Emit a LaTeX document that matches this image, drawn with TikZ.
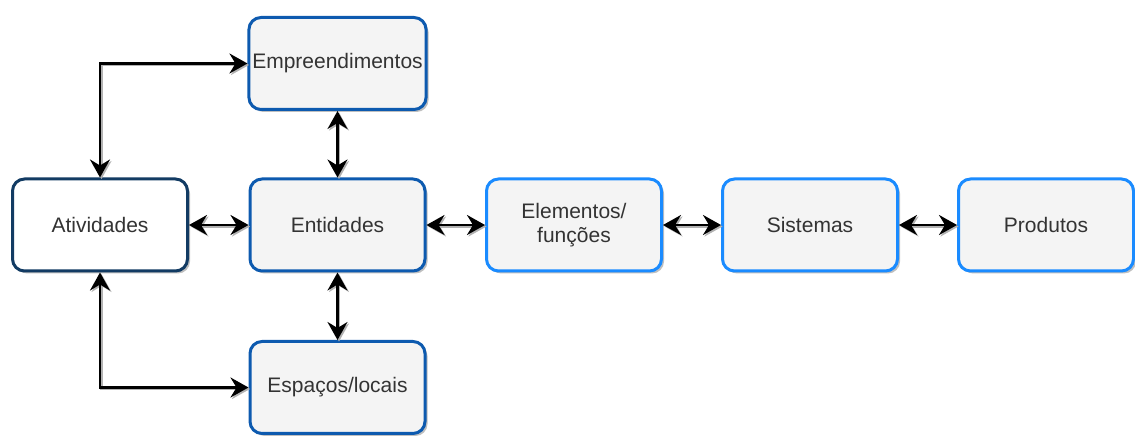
\documentclass[tikz,border=0pt]{standalone}
\usepackage{fontspec}
\setmainfont{Liberation Sans}
\usetikzlibrary{arrows.meta,shadows}
\definecolor{navy}{HTML}{123B63}
\definecolor{midblue}{HTML}{0D5AAF}
\definecolor{lightblue}{HTML}{1A8BFF}
\definecolor{boxfill}{HTML}{F4F4F4}
\definecolor{txt}{HTML}{333333}
\tikzset{
  box/.style={rectangle, rounded corners=12pt, line width=3pt,
    minimum width=175pt, minimum height=92pt, align=center,
    text=txt, font=\fontsize{21}{24}\selectfont, fill=boxfill,
    drop shadow={shadow xshift=2.5pt, shadow yshift=-2.5pt, fill=black!25, opacity=1}},
  boxA/.style={box, draw=navy, fill=white},
  boxB/.style={box, draw=midblue},
  boxC/.style={box, draw=lightblue},
  bigtip/.tip={Stealth[length=18pt,width=20pt,inset=6pt]},
  conn/.style={line width=2.5pt, draw=black, bigtip-bigtip},
  connshadow/.style={conn, draw=black!30, transform canvas={shift={(1.5pt,-1.5pt)}}}
}
\begin{document}
\begin{tikzpicture}[x=1pt,y=1pt]
\useasboundingbox (0,0) rectangle (1135,439);
\node[boxB] (emp) at (337.5,375.5) {Empreendimentos};
\node[boxA] (ati) at (100,214) {Atividades};
\node[boxB] (ent) at (337.5,214) {Entidades};
\node[boxC] (ele) at (574,214) {Elementos/\\funções};
\node[boxC] (sis) at (810,214) {Sistemas};
\node[boxC] (pro) at (1046,214) {Produtos};
\node[boxB] (esp) at (337.5,51.5) {Espaços/locais};
\foreach \s in {connshadow,conn}{
  \draw[\s] (ati.north) |- (emp.west);
  \draw[\s] (ati.south) |- (esp.west);
  \draw[\s] (ent.north) -- (emp.south);
  \draw[\s] (ent.south) -- (esp.north);
  \draw[\s] (ati.east) -- (ent.west);
  \draw[\s] (ent.east) -- (ele.west);
  \draw[\s] (ele.east) -- (sis.west);
  \draw[\s] (sis.east) -- (pro.west);
}
\end{tikzpicture}
\end{document}
